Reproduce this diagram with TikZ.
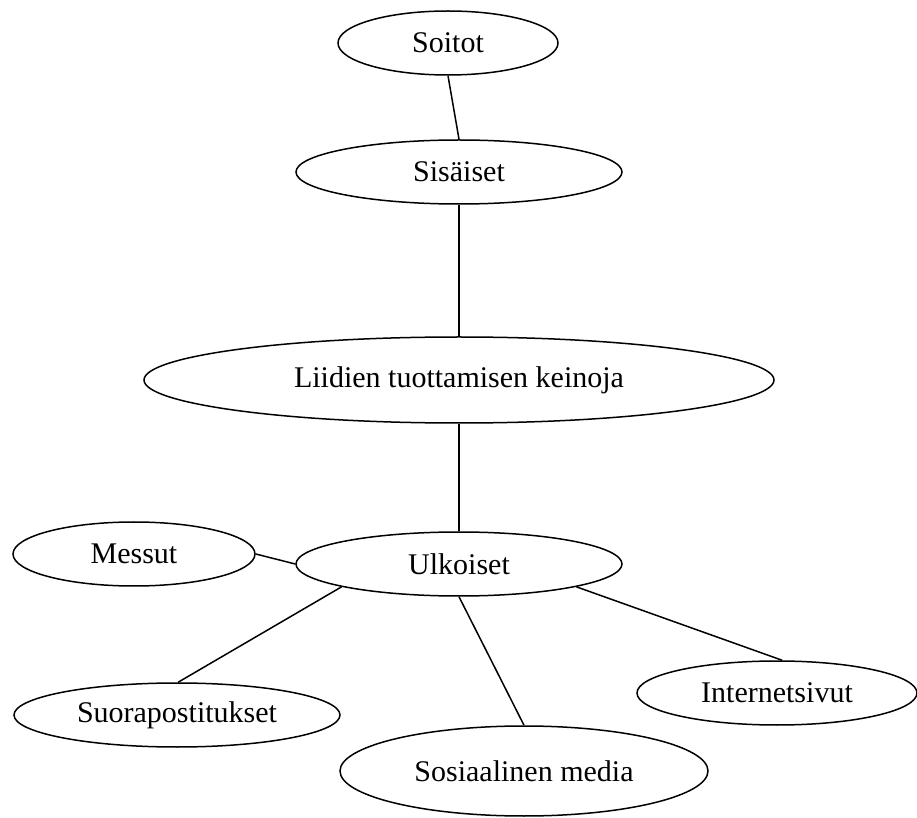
\documentclass[tikz,border=0pt]{standalone}
\usepackage{fontspec}
\setmainfont{Liberation Serif}
\usepackage{tikz}
\usetikzlibrary{positioning}
\usetikzlibrary{shapes.geometric}

\begin{document}
\begin{tikzpicture}[
        x=0.5pt, y=-0.5pt,
        keino/.style={ellipse, draw=black, line width=0.75pt, inner sep=0pt,
            font=\fontsize{15}{18}\selectfont},
        line width=0.75pt
    ]
    \useasboundingbox (0,0) rectangle (917,818);

    % Upper part
    \node[keino, minimum width=110pt, minimum height=32pt] at (448,43) (soitot) {Soitot};
    \node[keino, minimum width=163pt, minimum height=32pt] at (459,172) (sisaiset) {Sisäiset};

    % Centre
    \node[keino, minimum width=315pt, minimum height=43pt] at (459,380) (keinot) {Liidien tuottamisen keinoja};

    % Lower part
    \node[keino, minimum width=163pt, minimum height=32pt] at (459,564) (ulkoiset) {Ulkoiset};
    \node[keino, minimum width=121pt, minimum height=32pt] at (134,554) (messut) {Messut};
    \node[keino, minimum width=163pt, minimum height=32pt] at (177,715) (suora) {Suorapostitukset};
    \node[keino, minimum width=184pt, minimum height=45pt] at (524,771) (some) {Sosiaalinen media};
    \node[keino, minimum width=140pt, minimum height=32pt] at (777,693) (netti) {Internetsivut};

    % Lines
    \draw (soitot.south) -- (sisaiset.north);
    \draw (sisaiset.south) -- (keinot.north);
    \draw (keinot.south) -- (ulkoiset.north);
    \draw (messut.east) -- (ulkoiset.west);
    \draw (ulkoiset.191) -- (suora.88);
    \draw (ulkoiset.south) -- (some.north);
    \draw (ulkoiset.349) -- (netti.81);

\end{tikzpicture}
\end{document}
